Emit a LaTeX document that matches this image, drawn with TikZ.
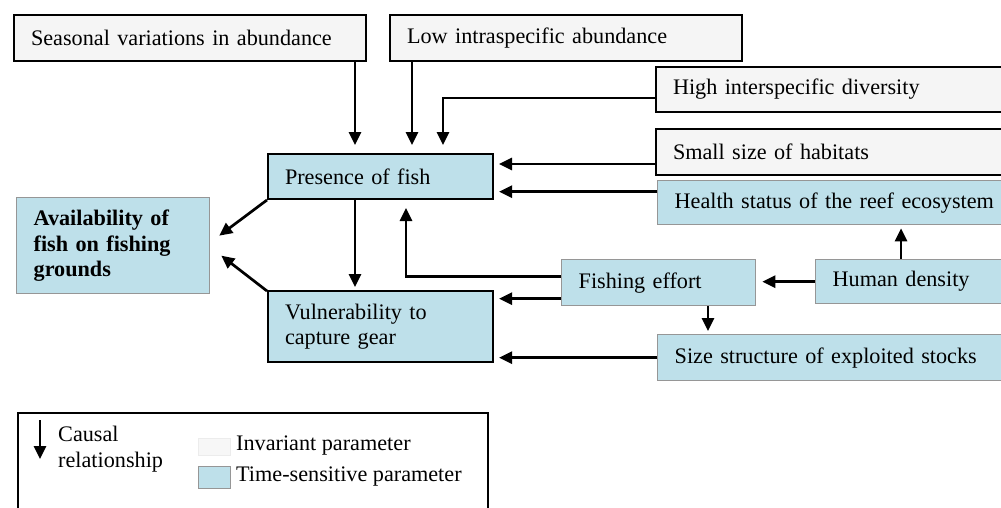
\documentclass[tikz,border=0pt]{standalone}
\usepackage{fontspec}
\setmainfont{Liberation Serif}
\usetikzlibrary{arrows.meta,calc}
\definecolor{tsblue}{RGB}{190,224,234}
\definecolor{invfill}{RGB}{245,245,245}
\definecolor{gborder}{RGB}{150,150,150}
\begin{document}
\begin{tikzpicture}[x=1pt,y=-1pt,
  lbl/.style={font=\fontsize{22.2}{25.5}\selectfont, align=left, inner xsep=17pt, inner ysep=0pt, anchor=north west},
  invbox/.style={lbl, draw=black, line width=2pt, fill=invfill},
  tsbox/.style={lbl, draw=black, line width=2pt, fill=tsblue},
  tsgbox/.style={lbl, draw=gborder, line width=1.3pt, fill=tsblue},
  arr/.style={line width=2.7pt, -{Triangle[length=13pt,width=12pt]}},
  plain/.style={font=\fontsize{22.2}{25.5}\selectfont, align=left, inner sep=0pt, anchor=west}
]
\useasboundingbox (0,0) rectangle (1001,507);
\clip (0,0) rectangle (1001,507);
\fill[white] (0,0) rectangle (1001,507);

% boxes
\node[invbox, text width=318pt, minimum height=46pt] (seas) at (13,14) {Seasonal variations in abundance};
\node[invbox, text width=318pt, minimum height=46pt] (low) at (389,14) {Low intraspecific abundance};
\node[invbox, text width=336pt, minimum height=45pt] (high) at (655,66) {High interspecific diversity};
\node[invbox, text width=336pt, minimum height=46pt] (small) at (655,128) {Small size of habitats};
\node[tsgbox, text width=334pt, minimum height=44pt] (health) at (657,180) {Health status of the reef ecosystem};
\node[tsbox, text width=191pt, minimum height=45pt] (pres) at (267,153) {Presence of fish};
\node[tsgbox, text width=159pt, minimum height=96pt] (avail) at (16,197) {\bfseries Availability of\\\bfseries fish on fishing\\\bfseries grounds};
\node[tsbox, text width=191pt, minimum height=71pt] (vuln) at (267,290) {Vulnerability to\\capture gear};
\node[tsgbox, text width=160pt, minimum height=46pt] (fish) at (561,259) {Fishing effort};
\node[tsgbox, text width=176pt, minimum height=44pt] (human) at (815,259) {Human density};
\node[tsgbox, text width=334pt, minimum height=46pt] (size) at (657,334) {Size structure of exploited stocks};

% connector anchor points
\coordinate (c1) at ([xshift=-12pt]seas.south east);
\coordinate (c2) at ([xshift=23pt]low.south west);
\coordinate (c3) at ([yshift=-8.5pt]high.west);
\coordinate (c3b) at ([xshift=176pt]pres.north west);
\coordinate (c4) at ([yshift=-12pt]small.west);
\coordinate (c5) at ([yshift=11pt]health.west);
\coordinate (c6) at ([yshift=6pt]fish.west);
\coordinate (c6b) at ([xshift=139pt]pres.south west);
\coordinate (c7) at ([yshift=-16pt]fish.west);
\coordinate (c8) at ([xshift=86pt]human.north west);
\coordinate (c9) at ([xshift=147pt]fish.south west);
\coordinate (c10) at ([xshift=88pt]pres.south west);
\coordinate (t1) at ([xshift=9pt,yshift=10pt]avail.east);
\coordinate (t2) at ([xshift=11pt,yshift=-10pt]avail.east);

% connectors
\draw[arr, shorten >=8pt] (c1) -- (c1 |- pres.north);
\draw[arr, shorten >=8pt] (c2) -- (c2 |- pres.north);
\draw[arr, shorten >=8pt] (c3) -| (c3b);
\draw[arr, shorten >=5pt] (c4) -- (c4 -| pres.east);
\draw[arr, shorten >=5pt] (c5) -- (c5 -| pres.east);
\draw[arr, shorten >=8pt] (c6) -| (c6b);
\draw[arr, shorten >=5pt] (c7) -- (c7 -| vuln.east);
\draw[arr, shorten >=6pt] (human.west) -- (human.west -| fish.east);
\draw[arr, shorten >=3pt] (c8) -- (c8 |- health.south);
\draw[arr, shorten >=3pt] (c9) -- (c9 |- size.north);
\draw[arr, shorten >=5pt] (size.west) -- (size.west -| vuln.east);
\draw[arr, shorten >=3pt] (c10) -- (c10 |- vuln.north);
\draw[arr] (pres.south west) -- (t1);
\draw[arr] ([yshift=-1pt]vuln.north west) -- (t2);

% legend
\node[draw=black, line width=2pt, minimum width=470pt, minimum height=110pt, anchor=north west, inner sep=0pt] (legend) at (17,412) {};
\coordinate (la) at ([xshift=23pt,yshift=-8pt]legend.north west);
\coordinate (lb) at ([xshift=23pt,yshift=-47pt]legend.north west);
\draw[arr] (la) -- (lb);
\node[plain] (lcausal) at (58,449) {Causal\\relationship};
\node[draw=gray!15, fill=gray!6, line width=1pt, minimum width=32pt, minimum height=17pt, inner sep=0pt, anchor=north west] (sinv) at (198,438) {};
\node[draw=gborder, fill=tsblue, line width=1.3pt, minimum width=32pt, minimum height=22pt, inner sep=0pt, anchor=north west] (sts) at (198,466) {};
\node[plain] (linv) at (236,446) {Invariant parameter};
\node[plain] (lts) at (236,477) {Time-sensitive parameter};
\end{tikzpicture}
\end{document}
